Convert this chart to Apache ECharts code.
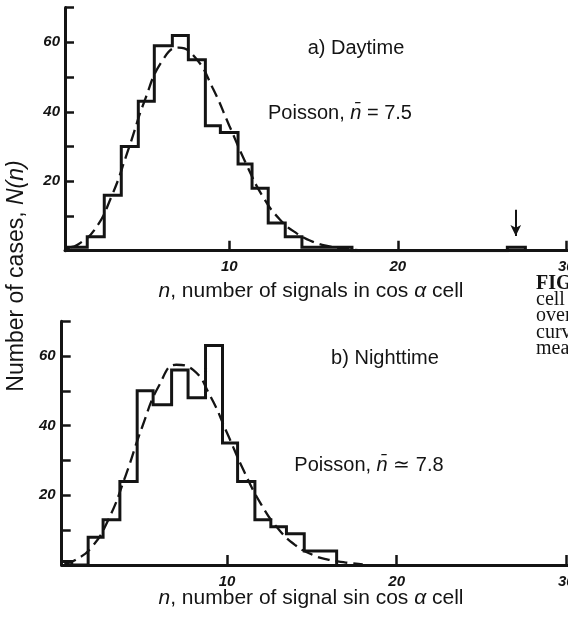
<!DOCTYPE html>
<html>
<head>
<meta charset="utf-8">
<script src="https://cdn.jsdelivr.net/npm/echarts@6/dist/echarts.min.js"></script>
<style>
html, body { margin: 0; padding: 0; background: #fff; }
#main { width: 568px; height: 617px; }
</style>
</head>
<body>
<div id="main"></div>
<script>
// a) daytime: histogram bin edges (n) and counts N(n)
var dayEdges = [0.45, 1.57, 2.58, 3.59, 4.6, 5.55, 6.62, 7.57, 8.58, 9.47, 10.52, 11.35, 12.31, 13.32, 14.31, 15.31, 16.29, 17.28, 26.5, 27.57];
var dayCounts = [1, 4, 16, 30, 43, 59, 62, 55, 36, 34, 25, 18, 8, 4, 1, 1, 1, 0, 1];
// Poisson fit, nbar = 7.5
var dayFitN = [0.6, 1, 2, 3, 4, 5, 6, 7, 8, 9, 10, 11, 12, 13, 14, 15, 16, 17, 17.8];
var dayFit = [1, 1.7, 6, 15.5, 29, 43.5, 54.5, 58.5, 55.5, 47, 36, 25, 15.5, 9, 5, 2.5, 1.2, 0.5, 0.1];

// b) nighttime
var nightEdges = [0.24, 0.84, 1.81, 2.69, 3.68, 4.7, 5.64, 6.73, 7.7, 8.73, 9.73, 10.62, 11.64, 12.58, 13.5, 14.55, 15.5, 16.46];
var nightCounts = [1, 0, 8, 13, 24, 50, 46, 56, 48, 63, 35, 24, 13, 11, 9, 4, 4];
var nightFitN = [0.4, 1, 2, 3, 4, 5, 6, 7, 8, 9, 10, 11, 12, 13, 14, 15, 16, 17, 18];
var nightFit = [0.4, 1.3, 5, 13, 25.4, 39.7, 51.6, 57.5, 56, 48.6, 37.9, 26.9, 17.5, 10.5, 5.8, 3, 1.5, 0.7, 0.2];

var xTicks = [10, 20, 30];
var yLabels = [20, 40, 60];
var arrowN = 27;
var arrowFrom = 11.8, arrowTo = 4.2;

var ink = '#141414';
var sans = "'Liberation Sans', Arial, sans-serif";
var serif = "'Liberation Serif', 'Times New Roman', serif";

function steps(edges, counts) {
    var pts = [[edges[0], 0]];
    for (var i = 0; i < counts.length; i++) {
        pts.push([edges[i], counts[i]]);
        pts.push([edges[i + 1], counts[i]]);
    }
    pts.push([edges[edges.length - 1], 0]);
    return pts;
}

function pairs(xs, ys) {
    return xs.map(function (x, i) { return [x, ys[i]]; });
}

function xAxisOpt(idx) {
    return {
        type: 'value',
        gridIndex: idx,
        min: 0.25,
        max: 30.1,
        axisLine: { show: true, lineStyle: { color: ink, width: 3 } },
        axisTick: { show: true, inside: true, length: 10, customValues: xTicks, lineStyle: { color: ink, width: 2.5 } },
        axisLabel: {
            customValues: xTicks, margin: 9, color: ink,
            fontFamily: sans, fontSize: 15, fontWeight: 'bold', fontStyle: 'italic'
        },
        splitLine: { show: false }
    };
}

function yAxisOpt(idx, margin) {
    return {
        type: 'value',
        gridIndex: idx,
        min: 0,
        max: 70,
        interval: 10,
        axisLine: { show: true, lineStyle: { color: ink, width: 3 } },
        axisTick: { show: true, inside: true, length: 9, lineStyle: { color: ink, width: 2.5 } },
        axisLabel: {
            margin: margin, color: ink,
            fontFamily: sans, fontSize: 15, fontWeight: 'bold', fontStyle: 'italic',
            formatter: function (v) { return yLabels.indexOf(v) >= 0 ? String(v) : ''; }
        },
        splitLine: { show: false }
    };
}

function txt(x, y, text, size, extra) {
    var el = {
        type: 'text',
        x: x,
        y: y,
        style: {
            text: text,
            fill: ink,
            font: size + 'px ' + sans,
            textAlign: 'center',
            textVerticalAlign: 'middle',
            rich: { i: { fontStyle: 'italic', fontFamily: sans, fontSize: size, fill: ink } }
        }
    };
    if (extra) { for (var k in extra) el[k] = extra[k]; }
    return el;
}

function caption(y, text, bold) {
    return {
        type: 'text', x: 536, y: y,
        style: { text: text, fill: ink, font: (bold ? 'bold ' : '') + '20px ' + serif, textVerticalAlign: 'middle' }
    };
}

var chart = echarts.init(document.getElementById('main'));
var option = {
    backgroundColor: '#fff',
    animation: false,
    grid: [
        { left: 65, top: 7.6, right: 0, height: 243.1, outerBoundsMode: 'none' },
        { left: 61.7, top: 321.2, right: 0, height: 243.8, outerBoundsMode: 'none' }
    ],
    xAxis: [xAxisOpt(0), xAxisOpt(1)],
    yAxis: [yAxisOpt(0, 5), yAxisOpt(1, 6)],
    series: [
        {
            name: 'daytime',
            type: 'line',
            xAxisIndex: 0, yAxisIndex: 0,
            data: steps(dayEdges, dayCounts),
            symbol: 'none',
            lineStyle: { color: ink, width: 3, join: 'miter' },
            markLine: {
                silent: true,
                symbol: ['none', 'arrow'],
                symbolSize: 10,
                label: { show: false },
                lineStyle: { color: ink, width: 2, type: 'solid' },
                data: [[
                    { coord: [arrowN, arrowFrom], symbol: 'none' },
                    { coord: [arrowN, arrowTo], symbol: 'arrow', symbolSize: [8, 11] }
                ]]
            }
        },
        {
            name: 'daytime Poisson',
            type: 'line',
            xAxisIndex: 0, yAxisIndex: 0,
            data: pairs(dayFitN, dayFit),
            smooth: true,
            symbol: 'none',
            lineStyle: { color: ink, width: 2.3, type: [12, 6] }
        },
        {
            name: 'nighttime',
            type: 'line',
            xAxisIndex: 1, yAxisIndex: 1,
            data: steps(nightEdges, nightCounts),
            symbol: 'none',
            lineStyle: { color: ink, width: 3, join: 'miter' }
        },
        {
            name: 'nighttime Poisson',
            type: 'line',
            xAxisIndex: 1, yAxisIndex: 1,
            data: pairs(nightFitN, nightFit),
            smooth: true,
            symbol: 'none',
            lineStyle: { color: ink, width: 2.3, type: [12, 6] }
        }
    ],
    graphic: [
        txt(356, 48, 'a) Daytime', 20),
        txt(340, 113, 'Poisson, {i|n\u0304} = 7.5', 20),
        txt(385, 358, 'b) Nighttime', 20),
        txt(369, 465, 'Poisson, {i|n\u0304} \u2243 7.8', 20),
        txt(311, 291, '{i|n}, number of signals in cos {i|\u03b1} cell', 21),
        txt(311, 598, '{i|n}, number of signal sin cos {i|\u03b1} cell', 21),
        txt(17, 276, 'Number of cases, {i|N(n)}', 23, { rotation: Math.PI / 2 }),
        caption(284, 'FIG.', true),
        caption(300, 'cell'),
        caption(316, 'over'),
        caption(333, 'curve'),
        caption(349, 'mean')
    ]
};
chart.setOption(option);
</script>
</body>
</html>
